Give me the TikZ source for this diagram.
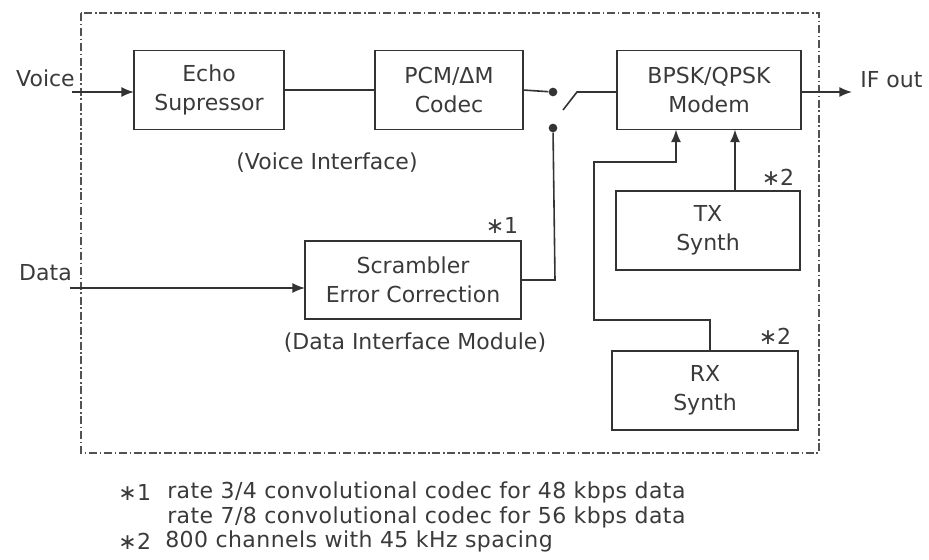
\documentclass[tikz,border=0pt]{standalone}
\usepackage{fontspec}
\setmainfont{DejaVu Sans}
\newfontfamily\notefont[LetterSpace=2]{DejaVu Sans}
\usetikzlibrary{arrows.meta,calc}
\definecolor{ink}{HTML}{333333}
\definecolor{txt}{HTML}{3A3A3A}
\begin{document}
\begin{tikzpicture}[x=0.75pt,y=-0.75pt,
  every node/.style={text=txt,font=\fontsize{16.5}{21.5}\selectfont},
  blk/.style={draw=ink,line width=1.2pt,rectangle,inner sep=0pt,outer sep=0pt,
    minimum height=59.25pt,align=center},
  wire/.style={draw=ink,line width=1.2pt},
  arr/.style={wire,-{Latex[length=9.5pt,width=7.5pt]}},
  frame/.style={draw=ink!85,line width=1.1pt,dash pattern=on 6pt off 2pt on 1.2pt off 2pt},
  dotc/.style={fill=ink,circle,inner sep=0pt,minimum size=6.5pt},
  note/.style={anchor=west,inner sep=0pt,font=\notefont\fontsize{16.5}{21.5}\selectfont}]
\useasboundingbox (0,0) rectangle (929,560);

% module boundary
\draw[frame] (81,13) rectangle (819,453);

% blocks
\node[blk,minimum width=112.5pt] (echo) at (209,90) {Echo\\Supressor};
\node[blk,minimum width=111pt]   (pcm)  at (449,90) {PCM/ΔM\\Codec};
\node[blk,minimum width=138pt]   (modem) at (709,90) {BPSK/QPSK\\Modem};
\node[blk,minimum width=162pt,minimum height=58.5pt] (scr) at (413,280) {Scrambler\\Error Correction};
\node[blk,minimum width=138pt]   (tx) at (708,230.5) {TX\\Synth};
\node[blk,minimum width=139.5pt] (rx) at (705,390.5) {RX\\Synth};

% labels
\node[anchor=east,inner sep=0pt] (voice) at (75,78) {Voice};
\node[anchor=east,inner sep=0pt] (data) at (72,273) {Data};
\node[anchor=west,inner sep=0pt] (ifout) at (860,80) {IF out};
\node (vif) at (327,163) {(Voice Interface)};
\node (dif) at (415,343) {(Data Interface Module)};
\node (n1) at (502,225) {∗1};
\node (n2a) at (778,177) {∗2};
\node (n2b) at (775,336) {∗2};

% switch contacts
\node[dotc] (sw1) at (553,92) {};
\node[dotc] (sw2) at (553,128) {};
\coordinate (blade0) at (563,110);
\coordinate (blade1) at (577,92);

% free ends and taps
\coordinate (vin) at (72,92);
\coordinate (din) at (70,288);
\coordinate (outend) at (852,92);
\coordinate (txtap) at (735,0);
\coordinate (rxtap) at (710,0);
\coordinate (mtap) at (676,0);
\coordinate (loopy) at (594,320);
\coordinate (loopt) at (0,162);
\coordinate (scrout) at (555,280);

% connectors
\draw[arr] (vin) -- (vin -| echo.west);
\draw[wire] (echo.east) -- (pcm.west);
\draw[wire] (pcm.east) -- (sw1);
\draw[wire] (blade0) -- (blade1) -- (blade1 -| modem.west);
\draw[arr] (din) -- (din -| scr.west);
\draw[wire] (scr.east |- scrout) -- (scrout) -- (sw2);
\draw[arr] (modem.east |- outend) -- (outend);
\draw[arr] (tx.north -| txtap) -- (modem.south -| txtap);
\draw[arr] (rx.north -| rxtap) -- (rxtap |- loopy) -- (loopy) -- (loopy |- loopt)
  -- (loopt -| mtap) -- (modem.south -| mtap);

% footnotes
\node[note] (f1m) at (118,492) {∗1};
\node[note] (f1a) at (167,492) {rate 3/4 convolutional codec for 48 kbps data};
\node[note] (f1b) at (167,517) {rate 7/8 convolutional codec for 56 kbps data};
\node[note] (f2m) at (118,541) {∗2};
\node[note] (f2a) at (165,541) {800 channels with 45 kHz spacing};
\end{tikzpicture}
\end{document}
